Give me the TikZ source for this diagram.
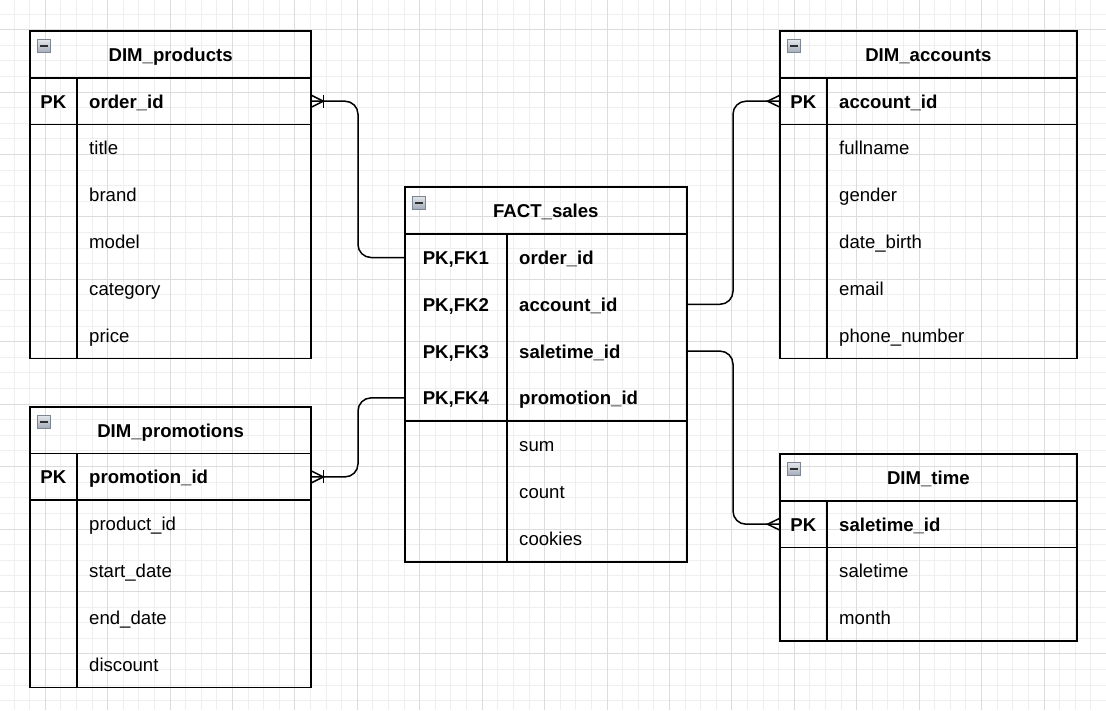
\documentclass[tikz,border=0pt]{standalone}
\usepackage{fontspec}
\setmainfont{Liberation Sans}
\usetikzlibrary{calc}

\definecolor{gridminor}{HTML}{EFEFEF}
\definecolor{gridmajor}{HTML}{DCDCDC}
\definecolor{togglefill1}{HTML}{E2E6EC}
\definecolor{togglefill2}{HTML}{A2AAB6}
\definecolor{toggleedge}{HTML}{7C8592}
\definecolor{togglebar}{HTML}{2E2E2E}

\def\rowh{46.8}
\def\basedrop{6.9}

\tikzset{
  entity/.style={draw=black, line width=1.7pt, rectangle, inner sep=0pt, outer sep=0pt},
  sep/.style={draw=black, line width=1.7pt},
  slot/.style={rectangle, inner sep=0pt, outer sep=0pt, minimum height=\rowh},
  txt/.style={inner sep=0pt, outer sep=0pt, font=\fontsize{18.6}{22}\selectfont},
  entitytitle/.style={txt, anchor=base, font=\fontsize{18.6}{22}\selectfont\bfseries},
  keylabel/.style={txt, anchor=base, font=\fontsize{18.6}{22}\selectfont\bfseries},
  keyfield/.style={txt, anchor=base west, font=\fontsize{18.6}{22}\selectfont\bfseries},
  field/.style={txt, anchor=base west},
  collapse/.style={rectangle, minimum width=13.5pt, minimum height=13pt, inner sep=0pt,
    draw=toggleedge, line width=0.9pt, top color=togglefill1, bottom color=togglefill2,
    path picture={\draw[togglebar, line width=2pt]
      ([xshift=-3.8pt]path picture bounding box.center) --
      ([xshift=3.8pt]path picture bounding box.center);}},
  rel/.style={draw=black, line width=1.5pt, rounded corners=13pt},
  foot/.style={draw=black, line width=1.5pt},
}

% #1 name, #2 left, #3 top, #4 right, #5 key column divider,
% #6 title, #7 number of key rows, #8 key rows (label/field), #9 plain fields
\newcommand{\erentity}[9]{%
  \foreach \f [count=\n] in {#9} {\xdef\erplain{\n}}%
  \pgfmathsetmacro\erbottom{#3+\rowh*(1+#7+\erplain)}%
  \pgfmathsetmacro\erkeyline{#3+\rowh*(1+#7)}%
  \node[entity, minimum width={#4-#2}, minimum height={\erbottom-#3}, anchor=north west] (#1) at (#2,#3) {};
  \node[entitytitle] (#1-title) at ({(#2+#4)/2},{#3+\rowh/2+\basedrop}) {#6};
  \node[collapse] (#1-toggle) at (#2+13.8,#3+15.3) {};
  \draw[sep] (#2,#3+\rowh) -- (#4,#3+\rowh);
  \draw[sep] (#2,\erkeyline) -- (#4,\erkeyline);
  \draw[sep] (#5,#3+\rowh) -- (#5,\erbottom);
  \foreach \k/\f [count=\i] in {#8} {
    \node[slot, minimum width={#4-#2}] (#1-\i) at ({(#2+#4)/2},{#3+\rowh*(\i+0.5)}) {};
    \node[keylabel] (#1-\i-key) at ({(#2+#5)/2},{#3+\rowh*(\i+0.5)+\basedrop}) {\k};
    \node[keyfield] (#1-\i-name) at (#5+12.5,{#3+\rowh*(\i+0.5)+\basedrop}) {\f};
  }
  \foreach \f [count=\j] in {#9} {
    \pgfmathtruncatemacro\i{#7+\j}
    \node[field] (#1-\i-name) at (#5+12.5,{#3+\rowh*(\i+0.5)+\basedrop}) {\f};
  }
}

\begin{document}
\begin{tikzpicture}[x=1pt, y=-1pt]
  \useasboundingbox (0,0) rectangle (1106,710);
  \fill[white] (0,0) rectangle (1106,710);

  % background grid
  \foreach \k in {0,...,69} {
    \draw[gridminor, line width=1pt] ({14+15.606*\k},0) -- ({14+15.606*\k},710);
  }
  \foreach \k in {0,...,44} {
    \draw[gridminor, line width=1pt] (0,{14+15.606*\k}) -- (1106,{14+15.606*\k});
  }
  \foreach \k in {2,6,...,66} {
    \draw[gridmajor, line width=1pt] ({14+15.606*\k},0) -- ({14+15.606*\k},710);
  }
  \foreach \k in {1,5,...,41} {
    \draw[gridmajor, line width=1pt] (0,{14+15.606*\k}) -- (1106,{14+15.606*\k});
  }

  % entities
  \erentity{products}{30}{31}{311.3}{76.7}{DIM\_products}{1}
    {PK/order\_id}{title,brand,model,category,price}
  \erentity{accounts}{780}{31}{1076.7}{826.7}{DIM\_accounts}{1}
    {PK/account\_id}{fullname,gender,date\_birth,email,phone\_number}
  \erentity{fact}{405}{187.3}{686.7}{506.7}{FACT\_sales}{4}
    {{PK,FK1}/order\_id,{PK,FK2}/account\_id,{PK,FK3}/saletime\_id,{PK,FK4}/promotion\_id}
    {sum,count,cookies}
  \erentity{promotions}{30}{406.7}{311.3}{76.7}{DIM\_promotions}{1}
    {PK/promotion\_id}{product\_id,start\_date,end\_date,discount}
  \erentity{time}{780}{454}{1076.7}{826.7}{DIM\_time}{1}
    {PK/saletime\_id}{saletime,month}

  % relationships
  \draw[rel] (fact-1.west) -- ++(-47,0) |- (products-1.east);
  \draw[rel] (fact-4.west) -- ++(-47,0) |- (promotions-1.east);
  \draw[rel] (fact-2.east) -- ++(46.3,0) |- (accounts-1.west);
  \draw[rel] (fact-3.east) -- ++(46.3,0) |- (time-1.west);

  % one-or-many ends
  \foreach \e in {products-1, promotions-1} {
    \draw[foot] ([yshift=6pt]\e.east) -- ([xshift=12pt]\e.east) -- ([yshift=-6pt]\e.east);
    \draw[foot] ([xshift=12pt,yshift=6.5pt]\e.east) -- ([xshift=12pt,yshift=-6.5pt]\e.east);
  }
  % many ends
  \foreach \e in {accounts-1, time-1} {
    \draw[foot] ([yshift=6pt]\e.west) -- ([xshift=-12.5pt]\e.west) -- ([yshift=-6pt]\e.west);
  }
\end{tikzpicture}
\end{document}
